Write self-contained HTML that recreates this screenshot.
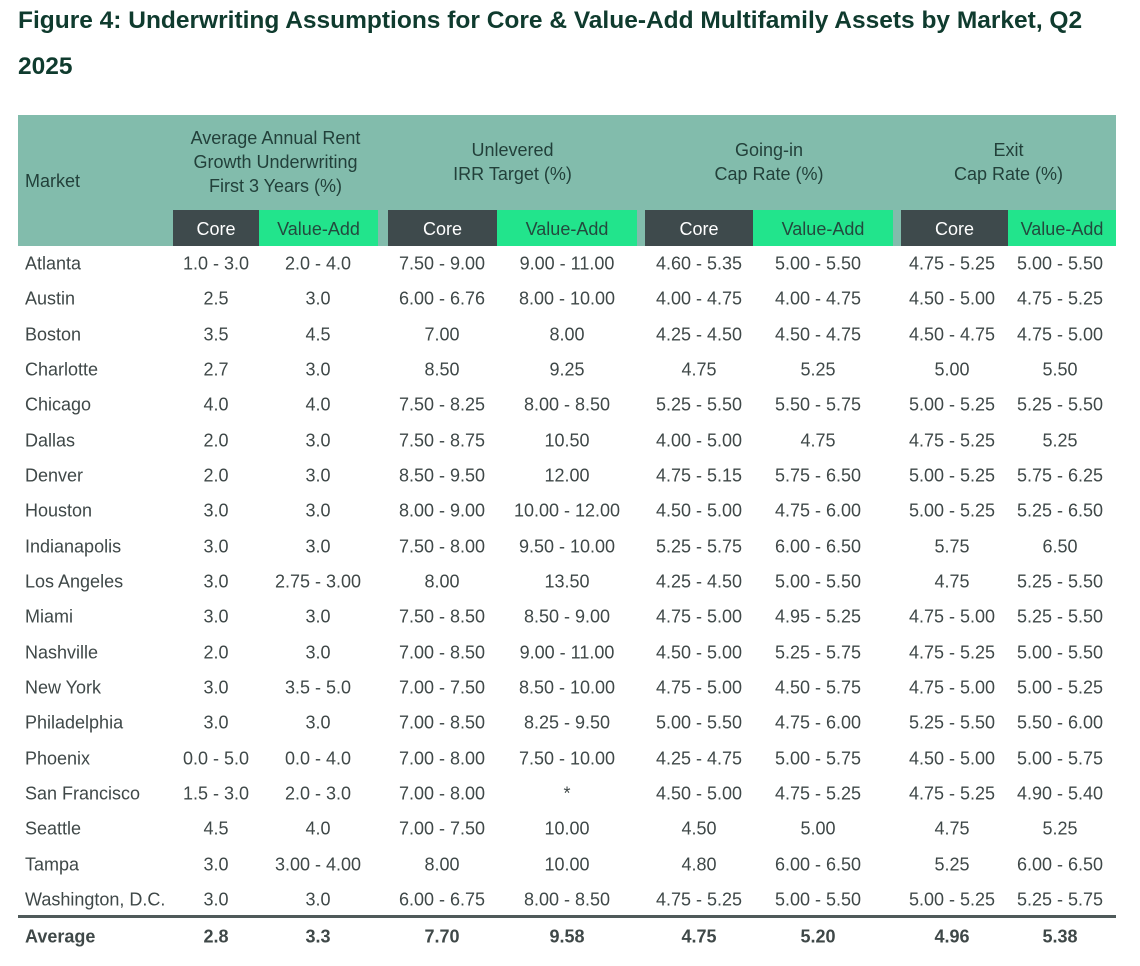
<!DOCTYPE html>
<html><head><meta charset="utf-8">
<style>
body{margin:0;width:1140px;height:966px;background:#fff;font-family:"Liberation Sans",sans-serif;position:relative;overflow:hidden;color:#3f4848}
.t{position:absolute;left:18px;font-size:24.5px;font-weight:bold;color:#0f3b2e;white-space:nowrap}
#hdr{position:absolute;left:18px;top:115px;width:1098px;height:131px;background:#82bcac}
.h{position:absolute;font-size:18px;color:#22403a;text-align:center;line-height:24px}
.sub{position:absolute;top:210px;height:36px;font-size:18px;line-height:38px;text-align:center}
.core{background:#3e4a4c;color:#fff}
.va{background:#22e48c;color:#234a3e}
.c{position:absolute;font-size:18px;white-space:nowrap;transform:translate(-50%,-50%)}
.m{position:absolute;left:25px;font-size:18px;transform:translateY(-50%);white-space:nowrap}
</style></head><body>
<div class="t" style="top:7px">Figure 4: Underwriting Assumptions for Core &amp; Value-Add Multifamily Assets by Market, Q2</div>
<div class="t" style="top:53px">2025</div>
<div id="hdr"></div>
<div class="h" style="left:25px;top:169px;text-align:left">Market</div>
<div class="h" style="left:168px;width:215px;top:126px">Average Annual Rent<br>Growth Underwriting<br>First 3 Years (%)</div>
<div class="h" style="left:388px;width:249px;top:138px">Unlevered<br>IRR Target (%)</div>
<div class="h" style="left:645px;width:248px;top:138px">Going-in<br>Cap Rate (%)</div>
<div class="h" style="left:901px;width:215px;top:138px">Exit<br>Cap Rate (%)</div>
<div class="sub core" style="left:173px;width:86px">Core</div>
<div class="sub va" style="left:259px;width:119px">Value-Add</div>
<div class="sub core" style="left:388px;width:109px">Core</div>
<div class="sub va" style="left:497px;width:140px">Value-Add</div>
<div class="sub core" style="left:645px;width:108px">Core</div>
<div class="sub va" style="left:753px;width:140px">Value-Add</div>
<div class="sub core" style="left:901px;width:107px">Core</div>
<div class="sub va" style="left:1008px;width:108px">Value-Add</div>
<div style="position:absolute;left:18px;top:915px;width:1098px;height:3px;background:#4f5a5a"></div>
<div id="body"></div>
<script>
const markets=["Atlanta","Austin","Boston","Charlotte","Chicago","Dallas","Denver","Houston","Indianapolis","Los Angeles","Miami","Nashville","New York","Philadelphia","Phoenix","San Francisco","Seattle","Tampa","Washington, D.C."];
const rentCore=["1.0 - 3.0","2.5","3.5","2.7","4.0","2.0","2.0","3.0","3.0","3.0","3.0","2.0","3.0","3.0","0.0 - 5.0","1.5 - 3.0","4.5","3.0","3.0"];
const rentVA=["2.0 - 4.0","3.0","4.5","3.0","4.0","3.0","3.0","3.0","3.0","2.75 - 3.00","3.0","3.0","3.5 - 5.0","3.0","0.0 - 4.0","2.0 - 3.0","4.0","3.00 - 4.00","3.0"];
const irrCore=["7.50 - 9.00","6.00 - 6.76","7.00","8.50","7.50 - 8.25","7.50 - 8.75","8.50 - 9.50","8.00 - 9.00","7.50 - 8.00","8.00","7.50 - 8.50","7.00 - 8.50","7.00 - 7.50","7.00 - 8.50","7.00 - 8.00","7.00 - 8.00","7.00 - 7.50","8.00","6.00 - 6.75"];
const irrVA=["9.00 - 11.00","8.00 - 10.00","8.00","9.25","8.00 - 8.50","10.50","12.00","10.00 - 12.00","9.50 - 10.00","13.50","8.50 - 9.00","9.00 - 11.00","8.50 - 10.00","8.25 - 9.50","7.50 - 10.00","*","10.00","10.00","8.00 - 8.50"];
const goCore=["4.60 - 5.35","4.00 - 4.75","4.25 - 4.50","4.75","5.25 - 5.50","4.00 - 5.00","4.75 - 5.15","4.50 - 5.00","5.25 - 5.75","4.25 - 4.50","4.75 - 5.00","4.50 - 5.00","4.75 - 5.00","5.00 - 5.50","4.25 - 4.75","4.50 - 5.00","4.50","4.80","4.75 - 5.25"];
const goVA=["5.00 - 5.50","4.00 - 4.75","4.50 - 4.75","5.25","5.50 - 5.75","4.75","5.75 - 6.50","4.75 - 6.00","6.00 - 6.50","5.00 - 5.50","4.95 - 5.25","5.25 - 5.75","4.50 - 5.75","4.75 - 6.00","5.00 - 5.75","4.75 - 5.25","5.00","6.00 - 6.50","5.00 - 5.50"];
const exCore=["4.75 - 5.25","4.50 - 5.00","4.50 - 4.75","5.00","5.00 - 5.25","4.75 - 5.25","5.00 - 5.25","5.00 - 5.25","5.75","4.75","4.75 - 5.00","4.75 - 5.25","4.75 - 5.00","5.25 - 5.50","4.50 - 5.00","4.75 - 5.25","4.75","5.25","5.00 - 5.25"];
const exVA=["5.00 - 5.50","4.75 - 5.25","4.75 - 5.00","5.50","5.25 - 5.50","5.25","5.75 - 6.25","5.25 - 6.50","6.50","5.25 - 5.50","5.25 - 5.50","5.00 - 5.50","5.00 - 5.25","5.50 - 6.00","5.00 - 5.75","4.90 - 5.40","5.25","6.00 - 6.50","5.25 - 5.75"];
const averages=["2.8","3.3","7.70","9.58","4.75","5.20","4.96","5.38"];
const cols=[rentCore,rentVA,irrCore,irrVA,goCore,goVA,exCore,exVA];
const colNames=["rent-core","rent-va","irr-core","irr-va","going-in-core","going-in-va","exit-core","exit-va"];
const cx=[216,318,442,567,699,818,952,1060];
const body=document.getElementById('body');
function add(cls,txt,x,y,name,bold){
  const d=document.createElement('div');
  d.className=cls;d.textContent=txt;d.style.top=y+'px';
  if(x!==null)d.style.left=x+'px';
  if(bold)d.style.fontWeight='bold';
  
  
  body.appendChild(d);
}
markets.forEach((m,i)=>{
  const y=264+i*35.33;
  add('m',m,null,y,'market-'+m.toLowerCase().replace(/[^a-z]+/g,'-'));
  cols.forEach((c,j)=>add('c',c[i],cx[j],y,colNames[j]+'-cell'));
});
add('m','Average',null,937,'average-label',true);
averages.forEach((v,j)=>add('c',v,cx[j],937,'average-'+colNames[j],true));
</script>
</body></html>
